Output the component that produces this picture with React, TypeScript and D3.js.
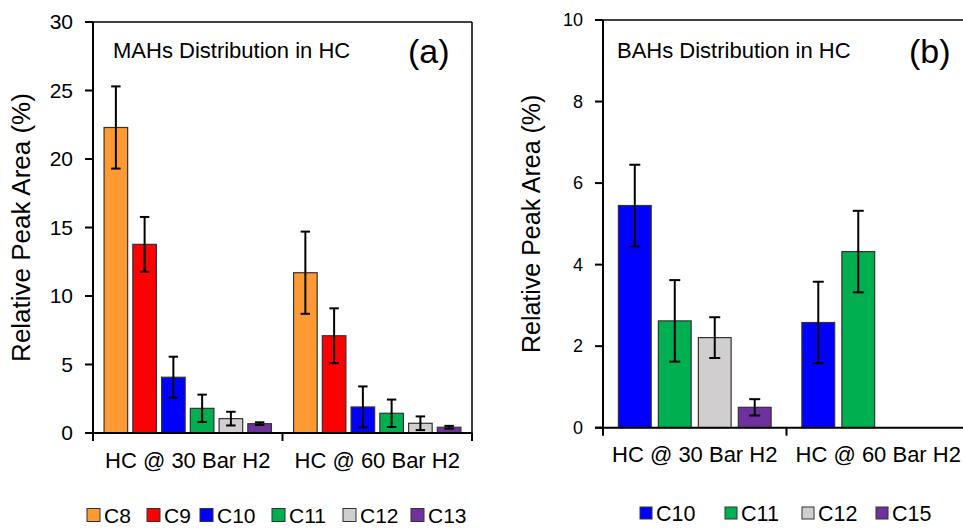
import React from 'react';
import * as d3 from 'd3';

// Categories and series
const groups = ['HC @ 30 Bar H2', 'HC @ 60 Bar H2'];

const mahSeries = ['C8', 'C9', 'C10', 'C11', 'C12', 'C13'];
const mahColors = ['#FF9933', '#FF0000', '#0000FF', '#00B050', '#D0CECE', '#7030A0'];
const mah30 = [22.3, 13.77, 4.07, 1.8, 1.05, 0.68];
const mah60 = [11.7, 7.1, 1.9, 1.44, 0.71, 0.42];
const mahErr30 = [3.0, 2.0, 1.5, 1.0, 0.5, 0.1];
const mahErr60 = [3.0, 2.0, 1.5, 1.0, 0.5, 0.1];
const mahTicks = [0, 5, 10, 15, 20, 25, 30];

const bahSeries = ['C10', 'C11', 'C12', 'C15'];
const bahColors = ['#0000FF', '#00B050', '#D0CECE', '#7030A0'];
const bah30 = [5.45, 2.62, 2.21, 0.5];
const bah60 = [2.58, 4.32, null, null];
const bahErr30 = [1.0, 1.0, 0.5, 0.2];
const bahErr60 = [1.0, 1.0, null, null];
const bahTicks = [0, 2, 4, 6, 8, 10];

const FONT = '"Liberation Sans", Arial, sans-serif';

type PanelProps = {
  left: number;
  right: number;
  top: number;
  bottom: number;
  yMax: number;
  ticks: number[];
  series: string[];
  colors: string[];
  values: (number | null)[][];
  errors: (number | null)[][];
  title: string;
  titleX: number;
  tag: string;
  tagX: number;
  tickFont: number;
  catFont: number;
  catY: number;
  yLabelX: number;
  yLabelFont: number;
  legendY: number;
  legendX: number[];
  legendFont: number;
  legendBox: number;
};

function Panel(p: PanelProps) {
  const y = d3.scaleLinear().domain([0, p.yMax]).range([p.bottom, p.top]);
  const x0 = d3.scaleBand().domain(groups).range([p.left, p.right]).padding(0);
  const x1 = d3
    .scaleBand()
    .domain(p.series)
    .range([0, x0.bandwidth()])
    .paddingInner(0.18)
    .paddingOuter(0.385);
  const bw = x1.bandwidth();
  const cap = Math.min(11, bw * 0.4);

  return (
    <g>
      {/* bars */}
      {groups.map((g, gi) =>
        p.series.map((s, si) => {
          const v = p.values[gi][si];
          if (v == null) return null;
          const bx = (x0(g) as number) + (x1(s) as number);
          return (
            <rect
              key={g + s}
              x={bx}
              y={y(v)}
              width={bw}
              height={y(0) - y(v)}
              fill={p.colors[si]}
              stroke="#333"
              strokeWidth={1.2}
            />
          );
        })
      )}
      {/* error bars */}
      {groups.map((g, gi) =>
        p.series.map((s, si) => {
          const v = p.values[gi][si];
          const e = p.errors[gi][si];
          if (v == null || e == null) return null;
          const cx = (x0(g) as number) + (x1(s) as number) + bw / 2;
          return (
            <g key={'e' + g + s} stroke="#000" strokeWidth={2}>
              <line x1={cx} x2={cx} y1={y(v + e)} y2={y(v - e)} />
              <line x1={cx - cap / 2} x2={cx + cap / 2} y1={y(v + e)} y2={y(v + e)} />
              <line x1={cx - cap / 2} x2={cx + cap / 2} y1={y(v - e)} y2={y(v - e)} />
            </g>
          );
        })
      )}
      {/* frame */}
      <line x1={p.left} x2={p.right} y1={p.top} y2={p.top} stroke="#000" strokeWidth={1.5} />
      <line x1={p.right} x2={p.right} y1={p.top} y2={p.bottom} stroke="#000" strokeWidth={1.5} />
      <line x1={p.left} x2={p.left} y1={p.top} y2={p.bottom} stroke="#000" strokeWidth={2} />
      <line x1={p.left - 8} x2={p.right} y1={p.bottom} y2={p.bottom} stroke="#000" strokeWidth={2} />
      {/* y ticks */}
      {p.ticks.map(t => (
        <g key={'t' + t}>
          <line x1={p.left - 8} x2={p.left} y1={y(t)} y2={y(t)} stroke="#000" strokeWidth={2} />
          <text
            x={p.left - 20}
            y={y(t)}
            dy="0.35em"
            textAnchor="end"
            fontSize={p.tickFont}
            fontFamily={FONT}
            fill="#000"
          >
            {t}
          </text>
        </g>
      ))}
      {/* x ticks at group boundaries */}
      {[...groups.map(g => x0(g) as number), p.right].map((xx, i) => (
        <line key={'xt' + i} x1={xx} x2={xx} y1={p.bottom} y2={p.bottom + 8} stroke="#000" strokeWidth={2} />
      ))}
      {groups.map(g => (
        <text
          key={'c' + g}
          x={(x0(g) as number) + x0.bandwidth() / 2}
          y={p.catY}
          textAnchor="middle"
          fontSize={p.catFont}
          fontFamily={FONT}
          fill="#000"
        >
          {g}
        </text>
      ))}
      {/* y label */}
      <text
        transform={`translate(${p.yLabelX},${(p.top + p.bottom) / 2}) rotate(-90)`}
        textAnchor="middle"
        fontSize={p.yLabelFont}
        fontFamily={FONT}
        fill="#000"
      >
        Relative Peak Area (%)
      </text>
      {/* title and tag */}
      <text x={p.titleX} y={58} fontSize={22} fontFamily={FONT} fill="#000">
        {p.title}
      </text>
      <text x={p.tagX} y={63} fontSize={34} fontFamily={FONT} fill="#000">
        {p.tag}
      </text>
      {/* legend */}
      {p.series.map((s, i) => (
        <g key={'l' + s}>
          <rect
            x={p.legendX[i]}
            y={p.legendY - p.legendBox / 2}
            width={p.legendBox}
            height={p.legendBox}
            fill={p.colors[i]}
            stroke="#333"
            strokeWidth={1}
          />
          <text
            x={p.legendX[i] + p.legendBox + 4}
            y={p.legendY}
            dy="0.36em"
            fontSize={p.legendFont}
            fontFamily={FONT}
            fill="#000"
          >
            {s}
          </text>
        </g>
      ))}
    </g>
  );
}

export default function App() {
  return (
    <svg
      width={963}
      height={530}
      style={{ position: 'absolute', left: 0, top: 0, background: '#fff' }}
    >
      <rect width={963} height={530} fill="#fff" />
      <Panel
        left={93}
        right={472}
        top={22}
        bottom={433}
        yMax={30}
        ticks={mahTicks}
        series={mahSeries}
        colors={mahColors}
        values={[mah30, mah60]}
        errors={[mahErr30, mahErr60]}
        title="MAHs Distribution in HC"
        titleX={113}
        tag="(a)"
        tagX={408}
        tickFont={21}
        catFont={22}
        catY={468}
        yLabelX={30}
        yLabelFont={26}
        legendY={515}
        legendX={[87, 147, 200, 272, 343, 411]}
        legendFont={21}
        legendBox={13}
      />
      <Panel
        left={603}
        right={970}
        top={20}
        bottom={427.7}
        yMax={10}
        ticks={bahTicks}
        series={bahSeries}
        colors={bahColors}
        values={[bah30, bah60]}
        errors={[bahErr30, bahErr60]}
        title="BAHs Distribution in HC"
        titleX={617}
        tag="(b)"
        tagX={909}
        tickFont={18}
        catFont={22}
        catY={462}
        yLabelX={540}
        yLabelFont={25}
        legendY={513}
        legendX={[640, 725, 802, 876]}
        legendFont={21.5}
        legendBox={12}
      />
    </svg>
  );
}
